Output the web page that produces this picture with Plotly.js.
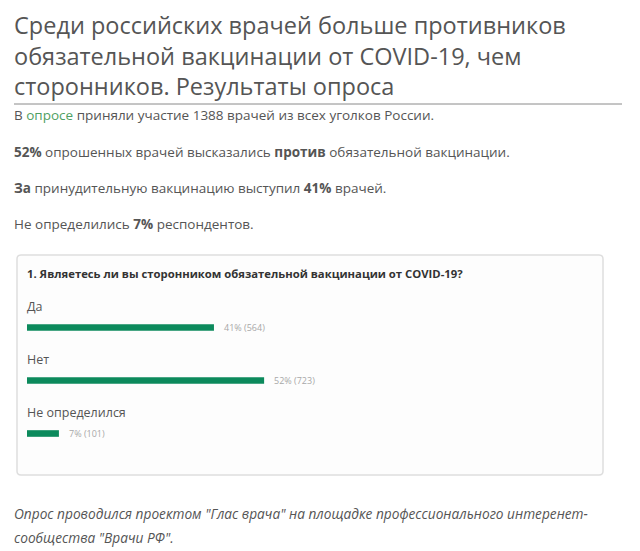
<!DOCTYPE html>
<html>
<head>
<meta charset="utf-8">
<script src="https://cdn.plot.ly/plotly-3.0.1.min.js"></script>
<style>
  html, body { margin: 0; padding: 0; background: #ffffff; }
  #chart { width: 640px; height: 551px; }
</style>
</head>
<body>
<div id="chart"></div>
<script>
// Poll answers
const categories = ["Да", "Нет", "Не определился"];
const percents = [41, 52, 7];
const counts = [564, 723, 101];

const titleLines = [
  "Среди российских врачей больше противников",
  "обязательной вакцинации от COVID-19, чем",
  "сторонников. Результаты опроса",
];

const bodyLines = [
  "В <span style=\"color:#4f9f63\">опросе</span> приняли участие 1388 врачей из всех уголков России.",
  "<b>52%</b> опрошенных врачей высказались <b>против</b> обязательной вакцинации.",
  "<b>За</b> принудительную вакцинацию выступил <b>41%</b> врачей.",
  "Не определились <b>7%</b> респондентов.",
];

const question = "1. Являетесь ли вы сторонником обязательной вакцинации от COVID-19?";

const footLines = [
  "Опрос проводился проектом \"Глас врача\" на площадке профессионального интеренет-",
  "сообщества \"Врачи РФ\".",
];

const W = 640, H = 551;
const FONT = "'Open Sans', 'DejaVu Sans', sans-serif";
const GREEN = "#0c8a5c";

// pixel → paper helpers (margins are zero)
const px = (x) => x / W;
const py = (y) => 1 - y / H;

function textNote(x, y, text, size, color, extra = {}) {
  return {
    xref: "paper", yref: "paper",
    x: px(x), y: py(y),
    xanchor: "left", yanchor: "middle",
    text, showarrow: false,
    font: { family: FONT, size, color },
    ...extra,
  };
}

// ── annotations ──────────────────────────────────────────────────────────────
const annotations = [];

const titleY = [25, 55.5, 86];
titleLines.forEach((t, i) => annotations.push(textNote(12, titleY[i], t, 23.5, "#555555")));

const bodyY = [115, 152, 188, 224];
bodyLines.forEach((t, i) => annotations.push(textNote(12, bodyY[i], t, 13.5, "#555555")));

annotations.push(textNote(25, 273, "<b>" + question + "</b>", 11.3, "#333333"));

categories.forEach((c, i) => {
  // category name above its bar
  annotations.push({
    xref: "paper", yref: "y",
    x: px(25), y: c,
    xanchor: "left", yanchor: "middle", yshift: 21,
    text: c, showarrow: false,
    font: { family: FONT, size: 12.5, color: "#555555" },
  });
  // value label right of bar
  annotations.push({
    xref: "x", yref: "y",
    x: percents[i], y: c,
    xanchor: "left", yanchor: "middle", xshift: 8,
    text: `${percents[i]}% (${counts[i]})`, showarrow: false,
    font: { family: FONT, size: 9, color: "#a8a8a8" },
  });
});

const footY = [513, 537];
footLines.forEach((t, i) =>
  annotations.push(textNote(12, footY[i], "<i>" + t + "</i>", 13.7, "#555555"))
);

// ── shapes: rule under title, rounded poll box ──────────────────────────────
function roundedBox(x0, y0, x1, y1, r) {
  const X = (v) => px(v).toFixed(5);
  const Y = (v) => py(v).toFixed(5);
  return [
    `M${X(x0 + r)},${Y(y0)}`,
    `L${X(x1 - r)},${Y(y0)}`,
    `Q${X(x1)},${Y(y0)} ${X(x1)},${Y(y0 + r)}`,
    `L${X(x1)},${Y(y1 - r)}`,
    `Q${X(x1)},${Y(y1)} ${X(x1 - r)},${Y(y1)}`,
    `L${X(x0 + r)},${Y(y1)}`,
    `Q${X(x0)},${Y(y1)} ${X(x0)},${Y(y1 - r)}`,
    `L${X(x0)},${Y(y0 + r)}`,
    `Q${X(x0)},${Y(y0)} ${X(x0 + r)},${Y(y0)}`,
    "Z",
  ].join(" ");
}

const shapes = [
  {
    type: "line", xref: "paper", yref: "paper",
    x0: px(14), x1: px(622), y0: py(104), y1: py(104),
    line: { color: "#8a8a8a", width: 1 },
  },
  {
    type: "path", xref: "paper", yref: "paper",
    path: roundedBox(17, 255, 603, 475, 4),
    fillcolor: "#fdfdfd",
    line: { color: "#dedede", width: 1.5 },
    layer: "below",
  },
];

// ── bars ─────────────────────────────────────────────────────────────────────
const traces = [{
  type: "bar",
  orientation: "h",
  x: percents,
  y: categories,
  width: 0.125,
  marker: { color: GREEN },
  hoverinfo: "skip",
}];

const layout = {
  width: W, height: H,
  margin: { t: 0, r: 0, b: 0, l: 0 },
  paper_bgcolor: "#ffffff",
  plot_bgcolor: "rgba(0,0,0,0)",
  showlegend: false,
  font: { family: FONT },
  xaxis: {
    domain: [px(27), px(483)],
    range: [0, 100],
    visible: false, fixedrange: true,
  },
  yaxis: {
    domain: [py(460), py(301)],
    type: "category",
    categoryorder: "array",
    categoryarray: categories,
    range: [2.5, -0.5],
    visible: false, fixedrange: true,
  },
  shapes,
  annotations,
};

Plotly.newPlot("chart", traces, layout, { displayModeBar: false, staticPlot: true });
</script>
</body>
</html>
